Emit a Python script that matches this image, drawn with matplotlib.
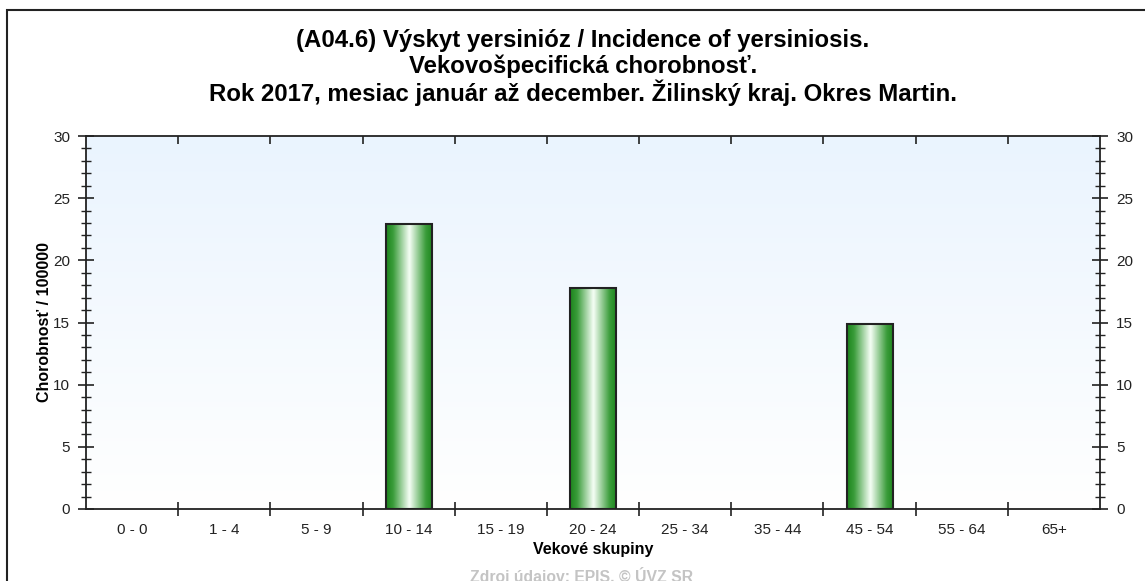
import numpy as np
import matplotlib
matplotlib.use("Agg")
import matplotlib.pyplot as plt
from matplotlib.colors import LinearSegmentedColormap
from matplotlib.patches import Rectangle
from matplotlib.ticker import MultipleLocator, FixedLocator, NullFormatter

plt.rcParams['font.family'] = ['Liberation Sans', 'DejaVu Sans']

categories = ["0 - 0", "1 - 4", "5 - 9", "10 - 14", "15 - 19", "20 - 24",
              "25 - 34", "35 - 44", "45 - 54", "55 - 64", "65+"]
values = [0, 0, 0, 22.9, 0, 17.8, 0, 0, 14.9, 0, 0]
title_lines = ["(A04.6) Výskyt yersinióz / Incidence of yersiniosis.",
               "Vekovošpecifická chorobnosť.",
               "Rok 2017, mesiac január až december. Žilinský kraj. Okres Martin."]
ylabel = "Chorobnosť / 100000"
xlabel = "Vekové skupiny"
source = "Zdroj údajov: EPIS, © ÚVZ SR"

W, H = 1145, 581
fig = plt.figure(figsize=(W/100, H/100), dpi=100)
fig.patch.set_facecolor("white")

# figure frame
fig.patches.append(Rectangle((7/W, -0.1), 2.0, 1 - 10/H + 0.1, transform=fig.transFigure,
                             fill=False, edgecolor="#222222", linewidth=1.5, zorder=0))

ax = fig.add_axes([86/W, 1 - 509/H, (1100-86)/W, (509-136)/H])
n = len(categories)
ax.set_xlim(-0.5, n - 0.5)
ax.set_ylim(0, 30)

# background gradient
bg = LinearSegmentedColormap.from_list("bg", ["#ffffff", "#eaf4fe"])
ax.imshow(np.linspace(0, 1, 256).reshape(-1, 1), cmap=bg, origin="lower",
          extent=[-0.5, n - 0.5, 0, 30], aspect="auto", zorder=0, interpolation="bicubic")

# bars with horizontal gradient
barcm = LinearSegmentedColormap.from_list(
    "bar", [(0, "#1c851c"), (0.15, "#3a9c3a"), (0.5, "#f6fff6"), (0.85, "#3a9c3a"), (1, "#1c851c")])
bw = 0.5
grad = np.linspace(0, 1, 256).reshape(1, -1)
for i, v in enumerate(values):
    if v <= 0:
        continue
    ax.imshow(grad, cmap=barcm, extent=[i - bw/2, i + bw/2, 0, v], aspect="auto",
              zorder=2, interpolation="bicubic")
    ax.add_patch(Rectangle((i - bw/2, 0), bw, v, fill=False, edgecolor="#222222",
                           linewidth=1.5, zorder=3))
ax.set_xlim(-0.5, n - 0.5)
ax.set_ylim(0, 30)

for s in ax.spines.values():
    s.set_linewidth(1.3)
    s.set_color("#222222")

# x ticks: boundaries as major ticks, labels at centers via minor ticks
bounds = np.arange(0.5, n - 0.5, 1.0)
ax.xaxis.set_major_locator(FixedLocator(bounds))
ax.xaxis.set_major_formatter(NullFormatter())
ax.xaxis.set_minor_locator(FixedLocator(np.arange(n)))
ax.set_xticklabels(categories, minor=True)
ax.tick_params(axis="x", which="major", direction="inout", length=10, width=1.2,
               color="#222222", top=False, bottom=True)
ax.tick_params(axis="x", which="minor", length=0, labelsize=11, pad=10, labelcolor="#222222")

# top ticks pointing inward
sec = ax.secondary_xaxis("top")
sec.set_xticks(bounds)
sec.tick_params(direction="in", length=6, width=1.2, color="#222222", labeltop=False)
sec.spines["top"].set_visible(False)

# y ticks
ax.yaxis.set_major_locator(MultipleLocator(5))
ax.yaxis.set_minor_locator(MultipleLocator(1))
ax.tick_params(axis="y", which="major", direction="inout", length=11, width=1.2,
               color="#222222", left=True, right=True, labelleft=True, labelright=True,
               labelsize=11, labelcolor="#222222", pad=6)
ax.tick_params(axis="y", which="minor", direction="inout", length=7, width=1.0,
               color="#222222", left=True, right=True)

ax.set_ylabel(ylabel, fontsize=11.5, fontweight="bold")
ax.yaxis.set_label_coords(-0.034, 0.5)
ax.set_xlabel(xlabel, fontsize=11.5, fontweight="bold")
ax.xaxis.set_label_coords(0.5, -0.089)

for k, yy in enumerate([40, 66, 93]):
    fig.text(583/W, 1 - yy/H, title_lines[k], ha="center", va="center",
             fontsize=17.3, fontweight="bold")

fig.text(582/W, 1 - 576/H, source, ha="center", va="center", fontsize=11.3,
         fontweight="bold", color="#c4c4c4")

fig.savefig("out.png", dpi=100)
